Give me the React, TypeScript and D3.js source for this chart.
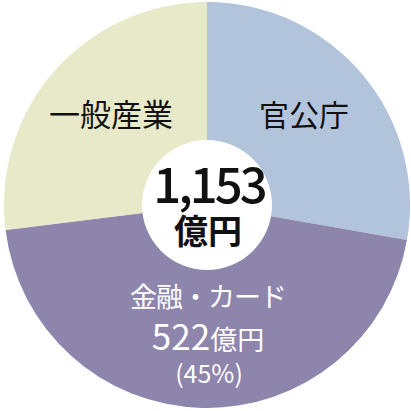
import React from 'react';
import * as d3 from 'd3';

const categories = ['官公庁', '金融・カード', '一般産業'];
const values = [320, 522, 311];
const colors = ['#b1c4dc', '#8e85ad', '#e8e9c9'];
const totalLabel = '1,153';
const unit = '億円';

const W = 411;
const H = 411;

const App: React.FC = () => {
  const cx = 207;
  const cy = 205;
  const radius = 203;

  const pie = d3.pie<number>().sort(null).startAngle(0).endAngle(2 * Math.PI);
  const arcs = pie(values);
  const arcGen = d3.arc<d3.PieArcDatum<number>>().innerRadius(0).outerRadius(radius);

  const total = d3.sum(values);
  const pct = Math.round((values[1] / total) * 100);
  const font = '"Noto Sans CJK JP", "Noto Sans", sans-serif';

  return (
    <div style={{ position: 'absolute', left: 0, top: 0 }}>
      <svg width={W} height={H} style={{ display: 'block' }}>
        <rect width={W} height={H} fill="#fff" />
        <g transform={`translate(${cx},${cy})`}>
          {arcs.map((a, i) => (
            <path key={categories[i]} d={arcGen(a) || ''} fill={colors[i]} />
          ))}
          <circle r={65} fill="#fff" />
        </g>
        <g fontFamily={font} textAnchor="middle">
          <text x={304} y={126} fontSize={30} fill="#111">{categories[0]}</text>
          <text x={111} y={126} fontSize={31} fill="#111">{categories[2]}</text>
          <text x={209} y={203} fontSize={49} fontWeight={500} fill="#111" letterSpacing={-3}>{totalLabel}</text>
          <text x={208} y={244} fontSize={34} fontWeight={700} fill="#111">{unit}</text>
          <text x={208} y={307} fontSize={27} fill="#fff" letterSpacing={-1}>{categories[1]}</text>
          <text x={208} y={350} fill="#fff">
            <tspan fontSize={35}>{values[1]}</tspan>
            <tspan fontSize={27}>{unit}</tspan>
          </text>
          <text x={209} y={383} fontSize={25} fill="#fff">{`(${pct}%)`}</text>
        </g>
      </svg>
    </div>
  );
};

export default App;
